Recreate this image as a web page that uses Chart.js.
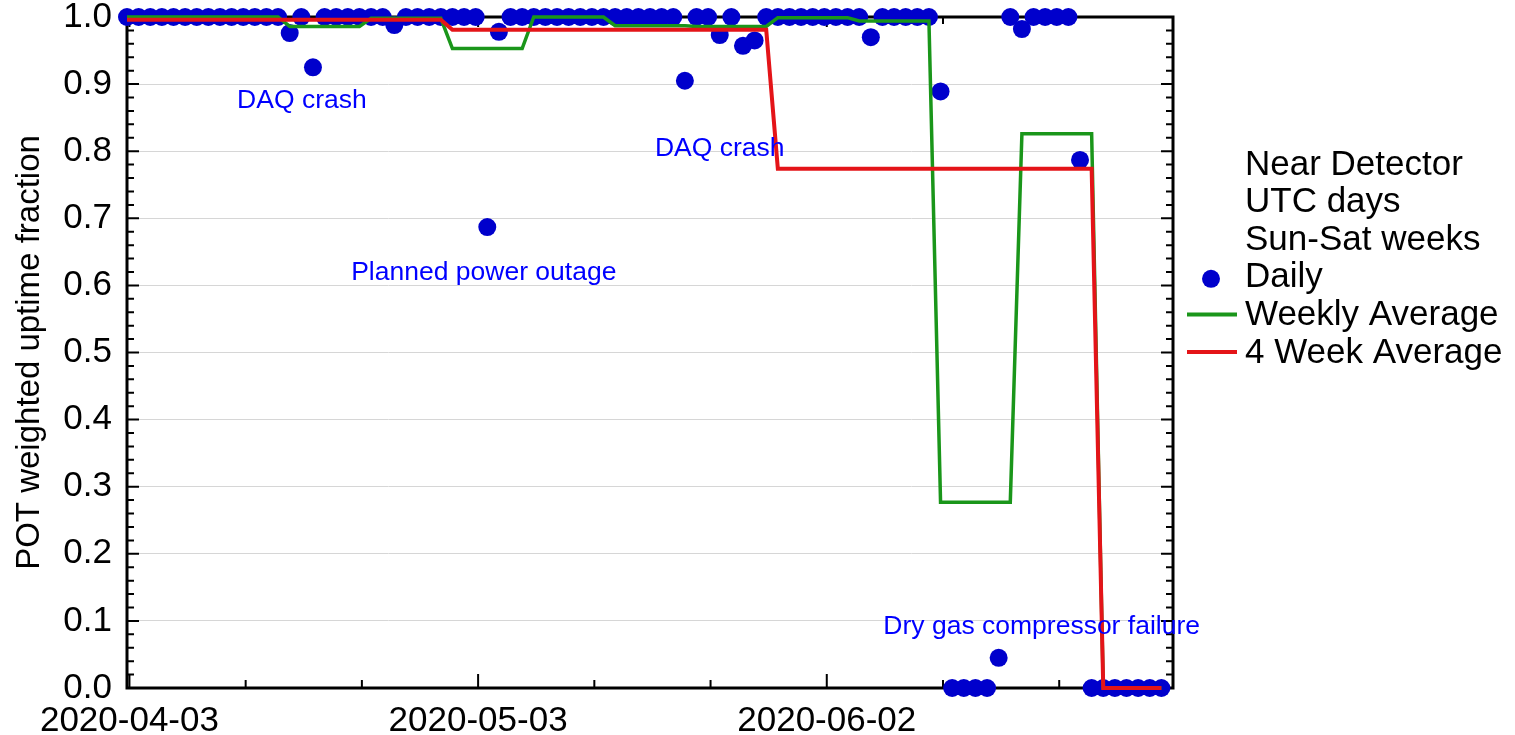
<!DOCTYPE html>
<html>
<head>
<meta charset="utf-8">
<script src="https://cdn.jsdelivr.net/npm/chart.js@4.4.1/dist/chart.umd.min.js"></script>
<style>
html, body { margin: 0; padding: 0; background: #fff; }
#wrap { width: 1515px; height: 735px; }
</style>
</head>
<body>
<div id="wrap"><canvas id="uptimeChart" width="1515" height="735"></canvas></div>
<script>
// x values are days counted from 2020-04-03 00:00 UTC
const dailyUptime = [
    1, 1, 1, 1, 1, 1, 1, 1, 1, 1, 1, 1, 1, 1,
    0.976, 1, 0.925, 1, 1, 1, 1, 1, 1, 0.988,
    1, 1, 1, 1, 1, 1, 1, 0.687, 0.978,
    1, 1, 1, 1, 1, 1, 1, 1, 1, 1, 1, 1, 1, 1, 1,
    0.905, 1, 1, 0.973, 1, 0.957, 0.965,
    1, 1, 1, 1, 1, 1, 1, 1, 1, 0.97, 1, 1, 1, 1, 1,
    0.889, 0, 0, 0, 0, 0.045, 1, 0.982, 1, 1, 1, 1, 0.787,
    0, 0, 0, 0, 0, 0, 0
];

const weekStartDays = [0, 7, 14, 21, 28, 35, 42, 49, 56, 63, 70, 77, 84];
const weekEndDays = [6, 13, 20, 27, 34, 41, 48, 55, 62, 69, 76, 83, 89];
const weeklyUptime = [1, 1, 0.986, 0.998, 0.953, 1, 0.987, 0.986, 0.999, 0.994, 0.277, 0.826, 0];

const fourWeekStartDays = [0, 28, 56, 84];
const fourWeekEndDays = [27, 55, 83, 89];
const fourWeekUptime = [0.996, 0.981, 0.774, 0];

// local midnight ticks, every 10 days
const tickDays = [0.21, 10.21, 20.21, 30.21, 40.21, 50.21, 60.21, 70.21, 80.21];
const tickLabels = ['2020-04-03', '', '', '2020-05-03', '', '', '2020-06-02', '', ''];

const infoLines = ['Near Detector', 'UTC days', 'Sun-Sat weeks'];

const noteTexts = ['DAQ crash', 'Planned power outage', 'DAQ crash', 'Dry gas compressor failure'];
const noteDays = [15.05, 30.7, 51.0, 78.7];
const noteValues = [0.875, 0.619, 0.804, 0.091];

const dailyPoints = dailyUptime.map((v, i) => ({x: i, y: v}));

function stepPoints(starts, ends, values) {
    const pts = [];
    values.forEach((v, i) => {
        pts.push({x: starts[i], y: v});
        pts.push({x: ends[i], y: v});
    });
    return pts;
}

Chart.defaults.font.family = '"Liberation Sans", Arial, Helvetica, sans-serif';
Chart.defaults.color = '#000';

// frame, inward ticks, notes and the legend block
const decorations = {
    id: 'decorations',
    beforeDatasetsDraw(chart) {
        const {ctx, chartArea: a, scales: {x, y}} = chart;
        ctx.save();
        ctx.strokeStyle = '#000';
        ctx.lineWidth = 3;
        ctx.strokeRect(a.left, a.top, a.right - a.left, a.bottom - a.top);
        ctx.lineWidth = 2;
        ctx.beginPath();
        for (let i = 0; i <= 50; i++) {
            const py = y.getPixelForValue(i / 50);
            const len = i % 5 === 0 ? 12 : 7;
            ctx.moveTo(a.left, py);
            ctx.lineTo(a.left + len, py);
            ctx.moveTo(a.right, py);
            ctx.lineTo(a.right - len, py);
        }
        x.ticks.forEach((t, i) => {
            const px = x.getPixelForValue(t.value);
            const major = tickLabels[i] !== '';
            ctx.moveTo(px, a.bottom);
            ctx.lineTo(px, a.bottom - (major ? 14 : 8));
            ctx.moveTo(px, a.top);
            ctx.lineTo(px, a.top + (major ? 10 : 7));
        });
        ctx.stroke();
        ctx.restore();
    },
    afterDatasetsDraw(chart) {
        const {ctx, chartArea: a, scales: {x, y}} = chart;
        ctx.save();

        // annotations
        ctx.font = '26.5px "Liberation Sans", Arial, sans-serif';
        ctx.fillStyle = '#0000ff';
        ctx.textAlign = 'center';
        ctx.textBaseline = 'middle';
        noteTexts.forEach((t, i) => {
            ctx.fillText(t, x.getPixelForValue(noteDays[i]), y.getPixelForValue(noteValues[i]));
        });

        // legend
        const textX = a.right + 72;
        const rowH = 37.6;
        let rowY = 165;
        ctx.font = '35px "Liberation Sans", Arial, sans-serif';
        ctx.fillStyle = '#000';
        ctx.textAlign = 'left';
        infoLines.forEach(t => {
            ctx.fillText(t, textX, rowY);
            rowY += rowH;
        });
        const ds = chart.data.datasets;
        [2, 1, 0].forEach(k => {
            const d = ds[k];
            if (d.showLine === false) {
                ctx.beginPath();
                ctx.fillStyle = d.pointBackgroundColor;
                ctx.arc(textX - 34, rowY + 1, 9, 0, Math.PI * 2);
                ctx.fill();
            } else {
                ctx.beginPath();
                ctx.strokeStyle = d.borderColor;
                ctx.lineWidth = 4;
                ctx.moveTo(textX - 58, rowY - 1);
                ctx.lineTo(textX - 8, rowY - 1);
                ctx.stroke();
            }
            ctx.fillStyle = '#000';
            ctx.fillText(d.label, textX, rowY);
            rowY += rowH;
        });
        ctx.restore();
    }
};

new Chart(document.getElementById('uptimeChart'), {
    type: 'line',
    data: {
        datasets: [
            {
                label: '4 Week Average',
                data: stepPoints(fourWeekStartDays, fourWeekEndDays, fourWeekUptime),
                borderColor: 'rgb(228, 20, 24)',
                borderWidth: 4,
                pointRadius: 0,
                tension: 0,
                clip: false,
                order: 0
            },
            {
                label: 'Weekly Average',
                data: stepPoints(weekStartDays, weekEndDays, weeklyUptime),
                borderColor: 'rgb(26, 150, 26)',
                borderWidth: 3.5,
                pointRadius: 0,
                tension: 0,
                clip: false,
                order: 1
            },
            {
                label: 'Daily',
                data: dailyPoints,
                showLine: false,
                pointRadius: 9,
                pointBorderWidth: 0,
                pointBackgroundColor: '#0000cc',
                clip: false,
                order: 2
            }
        ]
    },
    options: {
        responsive: false,
        animation: false,
        devicePixelRatio: 1,
        layout: {
            padding: {top: 17, right: 342, bottom: 0, left: 0}
        },
        plugins: {
            legend: {display: false},
            tooltip: {enabled: false}
        },
        scales: {
            x: {
                type: 'linear',
                min: 0,
                max: 90,
                grid: {display: false},
                border: {display: false},
                afterBuildTicks: scale => {
                    scale.ticks = tickDays.map(v => ({value: v}));
                },
                afterFit: scale => {
                    scale.height = 47;
                    scale.paddingLeft = 0;
                    scale.paddingRight = 0;
                },
                ticks: {
                    autoSkip: false,
                    maxRotation: 0,
                    padding: 4,
                    font: {size: 35},
                    callback: (value, index) => tickLabels[index]
                }
            },
            y: {
                min: 0,
                max: 1,
                grid: {color: '#d6d6d6', lineWidth: 1, drawTicks: false},
                border: {display: false},
                afterFit: scale => {
                    scale.width = 127;
                    scale.paddingTop = 0;
                    scale.paddingBottom = 0;
                },
                ticks: {
                    stepSize: 0.1,
                    padding: 15,
                    font: {size: 35},
                    callback: v => v.toFixed(1)
                },
                title: {
                    display: true,
                    text: 'POT weighted uptime fraction',
                    font: {size: 33},
                    padding: {top: 10, bottom: 0}
                }
            }
        }
    },
    plugins: [decorations]
});
</script>
</body>
</html>
